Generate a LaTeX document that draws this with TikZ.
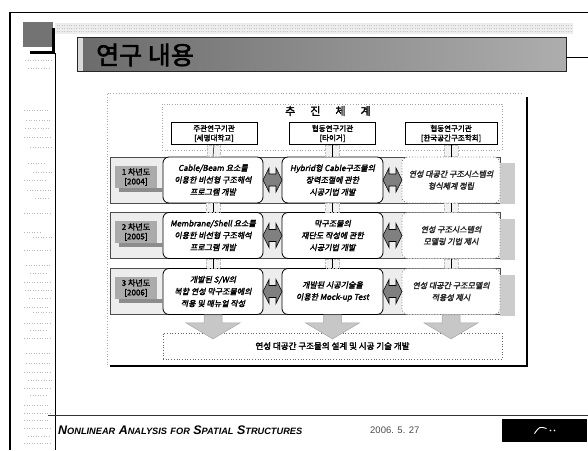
\documentclass[tikz,border=0pt]{standalone}
\usepackage{graphicx}
\usepackage{fontspec}
\setmainfont{Liberation Sans}
\newfontfamily\kr[AutoFakeBold=2.2,AutoFakeSlant=0.2]{Noto Sans CJK KR}
\usetikzlibrary{calc}
\newcommand\fsc[1]{{\fontsize{7.4}{8}\selectfont #1}}
\begin{document}
\begin{tikzpicture}[x=1pt,y=-1pt,
 rowbox/.style={draw=black, line width=0.8pt, rounded corners=6pt, fill=white, minimum width=100pt, minimum height=46pt, align=center, inner sep=1pt, font=\kr\bfseries\itshape\fontsize{8}{12}\selectfont},
 rowboxd/.style={rowbox, draw=black!55, dotted, text=black!85},
 hdrbox/.style={draw=black, line width=0.7pt, fill=white, minimum width=86pt, minimum height=22pt, align=center, inner sep=1pt, font=\kr\bfseries\fontsize{7.5}{9.5}\selectfont},
 lblbox/.style={fill=black!33, minimum width=42pt, minimum height=22pt, align=center, inner sep=1pt, font=\kr\bfseries\fontsize{8}{9.5}\selectfont},
 darrowp/.style={draw=black, line width=0.6pt, fill=black!50},
 hatch/.style={fill=black!20},
 band/.style={draw=black!70, line width=0.6pt, fill=black!7},
 conback/.style={draw=gray!50, densely dotted, fill=black!5},
 leftdots/.style={gray!55, dotted, line width=0.6pt}]
\useasboundingbox (0,0) rectangle (588,450);

% ---- page frame ----
\draw[line width=0.8pt] (10,12) -- (588,12);
\draw[line width=1.2pt] (10,12) -- (10,450);
\draw[line width=0.8pt] (55,53) -- (55,450);
\fill[black!7] (55,23) rectangle (573,34);
\foreach \yy in {25,28,31}{\draw[gray!45, dotted] (57,\yy) -- (573,\yy);}
\node[fill=black!55, minimum width=30pt, minimum height=25pt, inner sep=0pt] (corner) at (38,34.5) {};
\draw[line width=3pt] (53,28) -- (53,52) -- (30,52);
% left panel dotted placeholders
\foreach \yy/\a/\b in {60/25/52,68/28/50,110/24/48,120/26/52,128/25/50,137/24/52,147/30/52,163/28/46,172/33/52,180/24/46,190/27/52,198/35/50,213/24/52,232/24/40,237/33/52,250/24/52,265/26/50,273/30/48,282/24/52,290/25/52,298/29/52,307/24/50,312/33/52,323/24/52,330/30/48,338/24/52,353/26/52,363/26/52,372/24/52,380/28/52,388/24/52,395/30/48,405/24/50,413/24/52,420/24/50,428/24/52,436/28/50,443/24/52}{\draw[leftdots] (\a,\yy) -- (\b,\yy);}

% ---- title bar ----
\shade[left color=black!58, right color=black!32] (77,37) rectangle (566,71);
\fill[black!15] (77,37.5) rectangle (83,70.5);
\draw[black!85, line width=0.6pt] (77,37) rectangle (566,71);
\draw[line width=0.6pt] (566,57) -- (588,57);
\node[font=\kr\bfseries\fontsize{25}{25}\selectfont, anchor=west, inner sep=0pt] (title) at (96,55) {연구 내용};

% ---- content frame ----
\draw[gray!70, dotted, line width=0.7pt] (107,365) -- (107,93) -- (523,93);
\draw[line width=2.4pt] (527,97) -- (527,366) -- (110,366);
\draw[gray!70, dotted, line width=0.7pt] (162,104) rectangle (502,150);
\node[font=\kr\bfseries\fontsize{11}{11}\selectfont, inner sep=0pt] (plan) at (328,111) {추\hspace{15pt}진\hspace{15pt}체\hspace{15pt}계};

% row bands and column-3 shadows
\foreach \t/\b in {157/203,212.5/258.5,268.5/314.5}{
  \draw[band] (110,\t) rectangle (500,\b);
  \fill[hatch] (500,\t+6) rectangle (515,\b+1);
}

% header boxes
\node[hdrbox] (h1) at (214,133.5) {주관연구기관\\{[세명대학교]}};
\node[hdrbox] (h2) at (332.5,133.5) {협동연구기관\\{[타이거]}};
\node[hdrbox, minimum width=92pt] (h3) at (451,133.5) {협동연구기관\\{[한국공간구조학회]}};

% row boxes
\node[rowbox] (r11) at (213,180) {Cable/Beam 요소를\\이용한 비선형 구조해석\\프로그램 개발};
\node[rowbox, minimum width=101pt] (r12) at (332.5,180) {Hybrid형 Cable구조물의\\장력조절에 관한\\시공기법 개발};
\node[rowboxd, minimum width=98pt] (r13) at (451,180) {연성 대공간 구조시스템의\\형식체계 정립};

\node[rowbox] (r21) at (213,235.5) {Membrane/Shell 요소를\\이용한 비선형 구조해석\\프로그램 개발};
\node[rowbox, minimum width=101pt] (r22) at (332.5,235.5) {막구조물의\\재단도 작성에 관한\\시공기법 개발};
\node[rowboxd, minimum width=98pt] (r23) at (451,235.5) {연성 구조시스템의\\모델링 기법 제시};

\node[rowbox] (r31) at (213,291.5) {개발된 S/W의\\복합 연성 막구조물에의\\적용 및 매뉴얼 작성};
\node[rowbox, minimum width=101pt] (r32) at (332.5,291.5) {개발된 시공기술을\\이용한 Mock-up Test};
\node[rowboxd, minimum width=98pt] (r33) at (451,291.5) {연성 대공간 구조모델의\\적용성 제시};

% row labels
\node[lblbox] (l1) at (136,177) {1 차년도\\{[2004]}};
\node[lblbox] (l2) at (136,232) {2 차년도\\{[2005]}};
\node[lblbox] (l3) at (136,288) {3 차년도\\{[2006]}};
\foreach \l in {l1,l2,l3}{
  \fill[black!45] ($(\l.south west)+(4,0)$) rectangle ($(\l.south east)+(6,4)$);
}

% vertical connectors
\foreach \c in {1,2,3}{
  \draw[conback] ($(h\c.south)+(-7,0)$) rectangle ($(r1\c.north)+(7,0)$);
  \draw[conback] ($(r1\c.south)+(-7,0)$) rectangle ($(r2\c.north)+(7,0)$);
  \draw[conback] ($(r2\c.south)+(-7,0)$) rectangle ($(r3\c.north)+(7,0)$);
  \draw[line width=0.5pt] (h\c.south) -- (r1\c.north);
  \draw[line width=0.5pt] (r1\c.south) -- (r2\c.north);
  \draw[line width=0.5pt] (r2\c.south) -- (r3\c.north);
}

% double arrows between columns
\foreach \r in {1,2,3}{
  \foreach \p/\q in {1/2,2/3}{
    \coordinate (m) at ($(r\r\p.east)!0.5!(r\r\q.west)$);
    \draw[darrowp] ($(m)+(-9.5,0)$) -- ++(6,-12) -- ++(0,6) -- ++(7,0) -- ++(0,-6) -- ++(6,12) -- ++(-6,12) -- ++(0,-6) -- ++(-7,0) -- ++(0,6) -- cycle;
  }
}

% goal box
\node[draw=black!60, dotted, line width=0.7pt, fill=white, minimum width=339pt, minimum height=26pt, inner sep=0pt, font=\kr\bfseries\fontsize{8.5}{10}\selectfont] (goal) at (332.5,346) {연성 대공간 구조물의 설계 및 시공 기술 개발};

% down arrows
\foreach \c in {1,2,3}{
  \path[fill=black!22, draw=gray!70, line width=0.5pt] ($(r3\c.south)+(-9,0)$) -- ++(18,0) -- ++(0,8) -- ++(18,0) -- ($(r3\c.south)+(0,24)$) -- ++(-27,-16) -- ++(18,0) -- cycle;
}

% ---- footer ----
\draw[black!80, line width=0.7pt] (48,415) -- (588,415);
\node[anchor=west, inner sep=0pt] (foot) at (58,430) {\resizebox{244pt}{!}{\bfseries\itshape N\fsc{ONLINEAR} A\fsc{NALYSIS} \fsc{FOR} S\fsc{PATIAL} S\fsc{TRUCTURES}}};
\node[anchor=west, inner sep=0pt, font=\fontsize{9.5}{11}\selectfont, text=black!70] (date) at (370,430) {2006. 5. 27};
\node[fill=black, minimum width=85pt, minimum height=23pt, inner sep=0pt] (logo) at (544.5,430.5) {};
\draw[white, line width=0.9pt] ($(logo.center)+(-10,3)$) .. controls ($(logo.center)+(-5,-4)$) .. ($(logo.center)+(2,-2)$);
\fill[white] ($(logo.center)+(6,0)$) circle (0.9pt) ($(logo.center)+(10,0)$) circle (0.9pt);
\end{tikzpicture}
\end{document}
